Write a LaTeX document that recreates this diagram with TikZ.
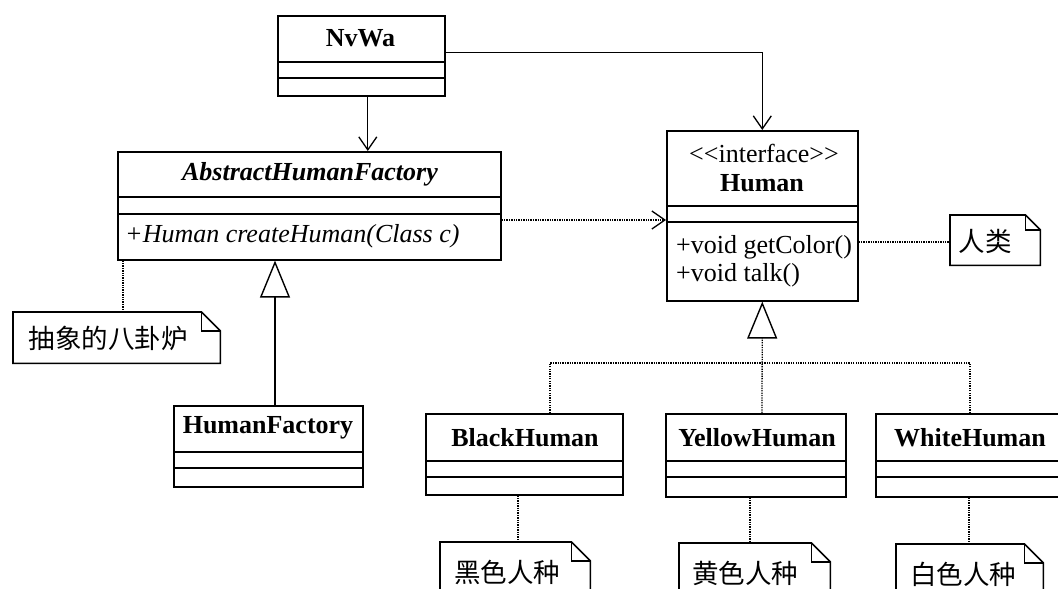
\documentclass[tikz,border=0pt]{standalone}
\usepackage{fontspec}
\setmainfont{Liberation Serif}
\newfontfamily\cjk{Noto Sans CJK SC}
\usetikzlibrary{arrows.meta}
\tikzset{
  boxline/.style={line width=1.6pt},
  clsbox/.style={draw, boxline, inner sep=0pt, anchor=north west},
  txt/.style={inner sep=0pt, font=\fontsize{26}{30}\selectfont},
  bold/.style={txt, font=\fontsize{26}{30}\selectfont\bfseries},
  cjktxt/.style={inner sep=0pt, font=\fontsize{26.5}{30}\selectfont\cjk},
  assoc/.style={line width=1.3pt, -{Straight Barb[length=13pt,width=18pt,line width=1.3pt]}},
  dotln/.style={line width=1.3pt, dash pattern=on 1.3pt off 1.1pt},
  realtip/.style={-{Triangle[open,length=37pt,width=30pt,line width=1.4pt]}},
}
% name, left, top, right, name-bottom, line2, bottom
\newcommand{\umlcls}[7]{%
  \node[clsbox, minimum width={(#4-#2)*1pt}, minimum height={(#7-#3)*1pt}] (#1) at (#2,#3) {};
  \draw[boxline] (#2,#5) -- (#4,#5) (#2,#6) -- (#4,#6);
}
% name, left, top, right, bottom, fold
\newcommand{\umlnote}[6]{%
  \node[inner sep=0pt, anchor=north west, minimum width={(#4-#2)*1pt}, minimum height={(#5-#3)*1pt}] (#1) at (#2,#3) {};
  \draw[boxline, line join=miter] (#1.north west) -- ([xshift=-#6pt]#1.north east) -- ([yshift=-#6pt]#1.north east) -- (#1.south east) -- (#1.south west) -- cycle;
  \draw[boxline] ([xshift=-#6pt]#1.north east) -- ++(0pt,-#6pt) -- ([yshift=-#6pt]#1.north east);
}
\begin{document}
\begin{tikzpicture}[x=1pt,y=-1pt]
\useasboundingbox (0,0) rectangle (1058,589);
\clip (0,0) rectangle (1058,589);
\fill[white] (0,0) rectangle (1058,589);

% classes
\umlcls{nvwa}{277}{15}{444}{62}{78}{95}
\node[bold] (nvwa-t) at (360.5,38) {NvWa};

\umlcls{ahf}{117}{151}{500}{197}{214}{259}
\node[txt, font=\fontsize{26}{30}\selectfont\bfseries\itshape] (ahf-t) at (310,174) {AbstractHumanFactory};
\node[txt, font=\fontsize{26}{30}\selectfont\itshape, anchor=west] (ahf-m) at (125,236) {+Human createHuman(Class c)};

\umlcls{human}{666}{130}{857}{206}{222}{300}
\node[txt] (human-s) at (764,153) {<{}<interface>{}>};
\node[bold] (human-t) at (762,183) {Human};
\node[txt, anchor=west] (human-m1) at (676,247) {+void getColor()};
\node[txt, anchor=west] (human-m2) at (676,275) {+void talk()};

\umlcls{hf}{173}{405}{362}{452}{468}{486}
\node[bold] (hf-t) at (268,428) {HumanFactory};

\umlcls{bh}{425}{413}{622}{461}{477}{494}
\node[bold] (bh-t) at (525,438) {BlackHuman};

\umlcls{yh}{665}{413}{845}{461}{477}{496}
\node[bold] (yh-t) at (757,438) {YellowHuman};

\umlcls{wh}{875}{413}{1075}{461}{477}{496}
\node[bold] (wh-t) at (970,438) {WhiteHuman};

% notes
\umlnote{n1}{13}{312}{220}{363}{19}
\node[cjktxt] (n1-t) at (108,338) {抽象的八卦炉};
\umlnote{n2}{950}{215}{1040}{265}{15}
\node[cjktxt] (n2-t) at (985,241) {人类};
\umlnote{n3}{440}{542}{590}{605}{19}
\node[cjktxt] (n3-t) at (507,572) {黑色人种};
\umlnote{n4}{679}{543}{830}{605}{19}
\node[cjktxt] (n4-t) at (745,573) {黄色人种};
\umlnote{n5}{896}{544}{1043}{605}{19}
\node[cjktxt] (n5-t) at (963,574) {白色人种};

% connectors
\draw[assoc] ([xshift=6.5pt]nvwa.south) -- ([xshift=6.5pt]nvwa.south |- ahf.north);
\draw[assoc] ([yshift=3pt]nvwa.east) -| (human.north);
\draw[dotln, -{Straight Barb[length=13pt,width=18pt,line width=1.3pt]}] (ahf.east |- 0,220) -- (human.west |- 0,220);
\draw[dotln] (ahf.south -| 123,0) -- (n1.north -| 123,0);
\draw[line width=1.3pt, realtip] (hf.north -| 275,0) -- (ahf.south -| 275,0);
\draw[dotln] (human.east |- 0,242) -- (n2.west |- 0,242);

\coordinate (join) at (762,363);
\draw[dotln] (bh.north -| 550,0) |- (join);
\draw[dotln] (wh.north -| 970,0) |- (join);
\draw[dotln, realtip] (yh.north -| 762,0) -- (human.south);

\draw[dotln] (bh.south -| 518,0) -- (n3.north -| 518,0);
\draw[dotln] (yh.south -| 750,0) -- (n4.north -| 750,0);
\draw[dotln] (wh.south -| 969,0) -- (n5.north -| 969,0);
\end{tikzpicture}
\end{document}
